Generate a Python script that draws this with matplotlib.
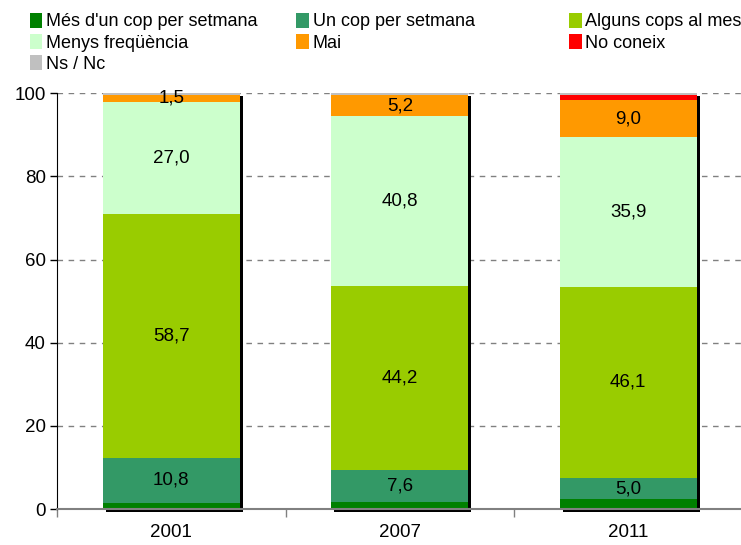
import matplotlib

matplotlib.use("Agg")
import matplotlib.pyplot as plt
import matplotlib.transforms as mtransforms
from matplotlib.patches import Patch
import numpy as np

plt.rcParams["font.family"] = ["Liberation Sans", "DejaVu Sans"]

years = ["2001", "2007", "2011"]
mes_dun_cop = [1.5, 1.8, 2.4]
un_cop = [10.8, 7.6, 5.0]
alguns_cops = [58.7, 44.2, 46.1]
menys_freq = [27.0, 40.8, 35.9]
mai = [1.5, 5.2, 9.0]
no_coneix = [0.0, 0.0, 1.2]
ns_nc = [0.5, 0.4, 0.4]

series = [
    ("Més d'un cop per setmana", mes_dun_cop, "#008000", False),
    ("Un cop per setmana", un_cop, "#339966", True),
    ("Alguns cops al mes", alguns_cops, "#99CC00", True),
    ("Menys freqüència", menys_freq, "#CCFFCC", True),
    ("Mai", mai, "#FF9900", True),
    ("No coneix", no_coneix, "#FF0000", False),
    ("Ns / Nc", ns_nc, "#C0C0C0", False),
]

fig = plt.figure(figsize=(7.41, 5.45), dpi=100)
ax = fig.add_axes([0.077, 0.066, 0.925, 0.763])

x = np.arange(len(years)) + 0.5
width = 0.6

# black drop shadow behind each whole bar
totals = np.sum([s[1] for s in series], axis=0)
shadow = mtransforms.offset_copy(ax.transData, fig=fig, x=3, y=-3, units="dots")
ax.bar(x, totals, width, color="black", transform=shadow, zorder=1, clip_on=False)

bottom = np.zeros(len(years))
for name, vals, color, labelled in series:
    vals = np.array(vals)
    ax.bar(x, vals, width, bottom=bottom, color=color, label=name, zorder=2)
    if labelled:
        for xi, b, v in zip(x, bottom, vals):
            ax.text(xi, b + v / 2, f"{v:.1f}".replace(".", ","), ha="center", va="center",
                    fontsize=13.5, color="black", zorder=3)
    bottom += vals

ax.set_xlim(0, 3)
ax.set_ylim(0, 100)
ax.set_yticks([0, 20, 40, 60, 80, 100])
ax.yaxis.grid(True, linestyle=(0, (4, 4)), color="#808080", linewidth=1)
ax.set_axisbelow(True)
ax.set_xticks(x)
ax.set_xticklabels(years)
ax.set_xticks([0, 1, 2, 3], minor=True)
ax.tick_params(axis="x", which="major", length=0, pad=11, labelsize=13.5)
ax.tick_params(axis="x", which="minor", length=6, color="#808080", width=1)
ax.tick_params(axis="y", length=5, width=1, labelsize=13.5, pad=3)
for side in ["top", "right"]:
    ax.spines[side].set_visible(False)
ax.spines["left"].set_color("black")
ax.spines["bottom"].set_color("#808080")
ax.spines["bottom"].set_linewidth(1.5)

# one legend per column so the columns sit at even spacing as in the original
handles = [Patch(facecolor=c, edgecolor="none") for _, _, c, _ in series]
labels = [n for n, _, _, _ in series]
columns = [([0, 3, 6], 0.040), ([1, 4], 0.400), ([2, 5], 0.768)]
for idx, x0 in columns:
    leg = fig.legend([handles[i] for i in idx], [labels[i] for i in idx],
                     loc="upper left", bbox_to_anchor=(x0, 0.977), frameon=False,
                     fontsize=13, handlelength=0.7, handleheight=0.9,
                     handletextpad=0.2, labelspacing=0.2, borderaxespad=0.0,
                     borderpad=0.0)

fig.savefig("out.png", dpi=100)
